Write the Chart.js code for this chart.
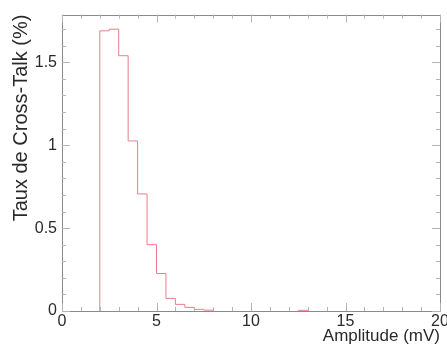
<!DOCTYPE html>
<html>
<head>
<meta charset="utf-8">
<script src="https://cdn.jsdelivr.net/npm/chart.js@4/dist/chart.umd.min.js"></script>
<style>
html,body{margin:0;padding:0;background:#fff;}
#c{display:block;}
</style>
</head>
<body>
<canvas id="c" width="447" height="348"></canvas>
<script>
// Histogram bins (0.5 mV wide), lower edges and cross-talk rates (%)
const binStart = [2.0, 2.5, 3.0, 3.5, 4.0, 4.5, 5.0, 5.5, 6.0, 6.5, 7.0, 7.5];
const binValues = [1.69, 1.70, 1.54, 1.026, 0.706, 0.40, 0.226, 0.076, 0.040, 0.022, 0.010, 0.005];
const binWidth = 0.5;
// isolated tiny bin far in the tail
const tailStart = [12.5];
const tailValues = [0.004];
const xTicks = [0, 5, 10, 15, 20];
const yTicks = [0, 0.5, 1, 1.5];

function histPoints(starts, vals) {
  const pts = [{x: starts[0], y: 0}];
  starts.forEach((s, i) => pts.push({x: s, y: vals[i]}));
  const last = starts.length - 1;
  pts.push({x: starts[last] + binWidth, y: vals[last]});
  pts.push({x: starts[last] + binWidth, y: 0});
  return pts;
}
const points = histPoints(binStart, binValues)
  .concat([{x: 10, y: null}])
  .concat(histPoints(tailStart, tailValues));

const axisColor = '#8a8a8a';
const textColor = '#2a2a2a';
const fontFam = '"Liberation Sans", Arial, sans-serif';

const frameTicks = {
  id: 'frameTicks',
  afterDatasetsDraw(chart) {
    const ctx = chart.ctx, a = chart.chartArea;
    const xs = chart.scales.x, ys = chart.scales.y;
    ctx.save();
    ctx.strokeStyle = axisColor;
    ctx.lineWidth = 1;
    ctx.beginPath();
    ctx.rect(Math.round(a.left) + 0.5, Math.round(a.top) + 0.5,
             Math.round(a.right - a.left), Math.round(a.bottom - a.top));
    ctx.stroke();
    ctx.strokeStyle = '#b4b4b4';
    ctx.beginPath();
    for (let v = 0; v <= 20; v += 1) {
      const px = Math.round(xs.getPixelForValue(v)) + 0.5;
      const len = (v % 5 === 0) ? 8 : 4;
      ctx.moveTo(px, a.bottom); ctx.lineTo(px, a.bottom - len);
      ctx.moveTo(px, a.top); ctx.lineTo(px, a.top + len);
    }
    for (let k = 0; k <= 17; k++) {
      const v = k / 10;
      const py = Math.round(ys.getPixelForValue(v)) + 0.5;
      const len = (k % 5 === 0) ? 8 : 4;
      ctx.moveTo(a.left, py); ctx.lineTo(a.left + len, py);
      ctx.moveTo(a.right, py); ctx.lineTo(a.right - len, py);
    }
    ctx.stroke();
    ctx.restore();
  }
};

new Chart(document.getElementById('c'), {
  type: 'line',
  data: {
    datasets: [{
      data: points,
      stepped: 'before',
      borderColor: 'rgb(234,126,138)',
      borderWidth: 1,
      pointRadius: 0,
      fill: false,
      spanGaps: false
    }]
  },
  options: {
    responsive: false,
    animation: false,
    events: [],
    layout: {padding: {top: 13, right: 0, left: 0, bottom: 0}},
    plugins: {legend: {display: false}, tooltip: {enabled: false}},
    scales: {
      x: {
        type: 'linear', min: 0, max: 20,
        afterBuildTicks: s => { s.ticks = xTicks.map(v => ({value: v})); },
        afterFit: s => { s.height = 37; s.paddingLeft = 0; s.paddingRight = 7; },
        grid: {display: false, drawTicks: false},
        border: {display: false},
        ticks: {color: textColor, font: {family: fontFam, size: 16}, padding: 1, maxRotation: 0,
                callback: v => String(v)},
        title: {display: true, text: 'Amplitude (mV)', align: 'end', color: textColor,
                font: {family: fontFam, size: 17}, padding: {top: 0, bottom: 1}}
      },
      y: {
        min: 0, max: 1.788,
        afterBuildTicks: s => { s.ticks = yTicks.map(v => ({value: v})); },
        afterFit: s => { s.width = 62; },
        grid: {display: false, drawTicks: false},
        border: {display: false},
        ticks: {color: textColor, font: {family: fontFam, size: 16}, padding: 5,
                callback: v => String(v)},
        title: {display: true, text: 'Taux de Cross-Talk (%)', align: 'end', color: textColor,
                font: {family: fontFam, size: 20}, padding: {top: 9, bottom: 0}}
      }
    }
  },
  plugins: [frameTicks]
});
</script>
</body>
</html>
